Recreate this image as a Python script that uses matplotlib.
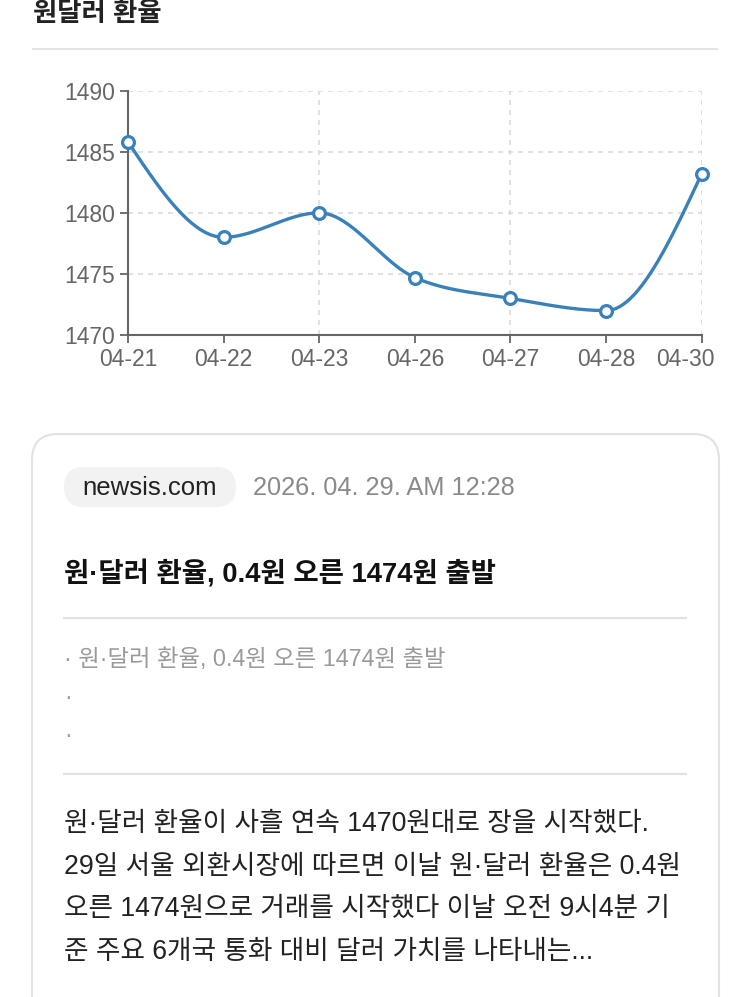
import matplotlib
matplotlib.use("Agg")
import matplotlib.pyplot as plt
import matplotlib.transforms as mtransforms
import numpy as np
from matplotlib.patches import FancyBboxPatch

# latinos en Liberation Sans, coreano en Noto CJK
plt.rcParams['font.family'] = ['Liberation Sans', 'Noto Sans CJK KR', 'DejaVu Sans']

# =============================================================================
# DATOS
# =============================================================================

dates = ["04-21", "04-22", "04-23", "04-26", "04-27", "04-28", "04-30"]
rates = [1485.8, 1478.0, 1480.0, 1474.7, 1473.0, 1472.0, 1483.2]
y_ticks = [1470, 1475, 1480, 1485, 1490]

chart_title = "원달러 환율"
source = "newsis.com"
published = "2026. 04. 29. AM 12:28"
headline = "원·달러 환율, 0.4원 오른 1474원 출발"
bullets = ["· 원·달러 환율, 0.4원 오른 1474원 출발", "·", "·"]
body_lines = [
    "원·달러 환율이 사흘 연속 1470원대로 장을 시작했다.",
    "29일 서울 외환시장에 따르면 이날 원·달러 환율은 0.4원",
    "오른 1474원으로 거래를 시작했다 이날 오전 9시4분 기",
    "준 주요 6개국 통화 대비 달러 가치를 나타내는...",
]

BLUE = "#3a80b9"
W, H = 750, 997


def monotone_curve(x, y, n=40):
    # curva monotona tipo d3 curveMonotoneX
    x = np.asarray(x, float)
    y = np.asarray(y, float)
    h = np.diff(x)
    s = np.diff(y) / h
    t = np.zeros_like(y)
    for i in range(1, len(y) - 1):
        s0, s1 = s[i - 1], s[i]
        p = (s0 * h[i] + s1 * h[i - 1]) / (h[i - 1] + h[i])
        sg = (1 if s0 >= 0 else -1) + (1 if s1 >= 0 else -1)
        t[i] = sg * min(abs(s0), abs(s1), 0.5 * abs(p))
    t[0] = (3 * s[0] - t[1]) / 2
    t[-1] = (3 * s[-1] - t[-2]) / 2
    xs, ys = [], []
    for i in range(len(h)):
        u = np.linspace(0, 1, n)
        h00 = 2 * u**3 - 3 * u**2 + 1
        h10 = u**3 - 2 * u**2 + u
        h01 = -2 * u**3 + 3 * u**2
        h11 = u**3 - u**2
        xs.append(x[i] + u * h[i])
        ys.append(h00 * y[i] + h10 * h[i] * t[i] + h01 * y[i + 1] + h11 * h[i] * t[i + 1])
    return np.concatenate(xs), np.concatenate(ys)


fig = plt.figure(figsize=(W / 100, H / 100), dpi=100)
fig.patch.set_facecolor("white")

# capa de fondo en pixeles
bg = fig.add_axes([0, 0, 1, 1])
bg.set_xlim(0, W)
bg.set_ylim(H, 0)
bg.axis("off")

bg.text(33, 14, chart_title, fontsize=19, fontweight="bold", color="#222222", va="center", ha="left")
bg.plot([33, 717], [49, 49], color="#e4e4e4", lw=1.5)

# tarjeta
bg.add_patch(FancyBboxPatch((32, 434), 687, 600, boxstyle="round,pad=0,rounding_size=26",
                            facecolor="white", edgecolor="#e2e2e2", lw=1.5))
bg.add_patch(FancyBboxPatch((64, 467), 172, 40, boxstyle="round,pad=0,rounding_size=20",
                            facecolor="#f2f2f2", edgecolor="none"))
bg.text(150, 488, source, fontsize=18.5, color="#222222", ha="center", va="center")
bg.text(253, 488, published, fontsize=18.3, color="#8a8a8a", ha="left", va="center")
bg.text(64, 574, headline, fontsize=19.8, fontweight="bold", color="#111111", ha="left", va="center")
bg.plot([64, 686], [618, 618], color="#e2e2e2", lw=1.5)
for i, b in enumerate(bullets):
    bg.text(64, 659 + i * 38, b, fontsize=16.8, color="#9a9a9a", ha="left", va="center")
bg.plot([64, 686], [774, 774], color="#e2e2e2", lw=1.5)
for i, line in enumerate(body_lines):
    bg.text(64, 824 + i * 42.5, line, fontsize=19.2, color="#222222", ha="left", va="center")

# grafico
ax = fig.add_axes([128 / W, 1 - 335 / H, (701.7 - 128) / W, (335 - 90.7) / H])
xpos = np.arange(len(dates))
ax.set_xlim(0, len(dates) - 1)
ax.set_ylim(y_ticks[0], y_ticks[-1])

for yv in y_ticks[1:]:
    ax.axhline(yv, color="#dcdcdc", lw=1.2, ls=(0, (3, 3)), zorder=0)
for xv in xpos[::2]:
    ax.axvline(xv, color="#dcdcdc", lw=1.2, ls=(0, (3, 3)), zorder=0)

cx, cy = monotone_curve(xpos, rates)
ax.plot(cx, cy, color=BLUE, lw=2.4, zorder=3, clip_on=False, solid_capstyle="round")
ax.plot(xpos, rates, ls="none", marker="o", ms=8.5, mfc="white", mec=BLUE, mew=2.3,
        zorder=4, clip_on=False)

ax.set_xticks(xpos)
ax.set_xticklabels(dates)
ax.set_yticks(y_ticks)
ax.tick_params(colors="#666666", labelcolor="#666666", labelsize=16.5, length=6, width=1.3, pad=3)

# la ultima etiqueta se mete dentro del ancho, como en el original
last = ax.get_xticklabels()[-1]
last.set_horizontalalignment("right")
last.set_transform(last.get_transform() + mtransforms.ScaledTranslation(0.13, 0, fig.dpi_scale_trans))

for side in ["top", "right"]:
    ax.spines[side].set_visible(False)
for side in ["left", "bottom"]:
    ax.spines[side].set_color("#666666")
    ax.spines[side].set_linewidth(1.5)
ax.set_facecolor("none")

fig.savefig("out.png", dpi=100)
